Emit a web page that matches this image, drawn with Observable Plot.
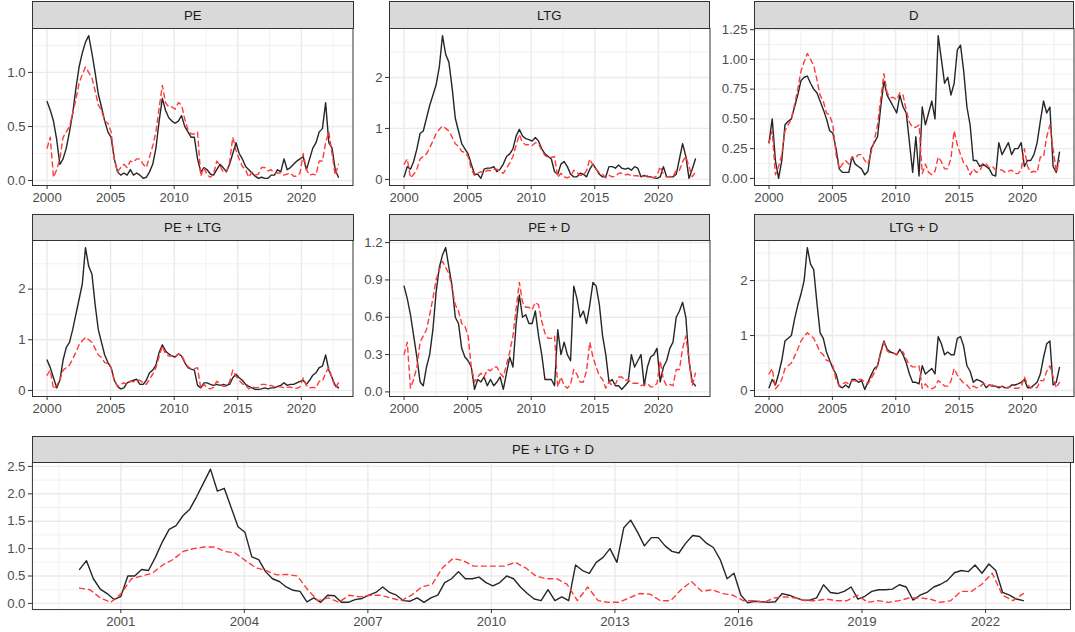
<!DOCTYPE html>
<html><head><meta charset="utf-8">
<script src="https://cdn.jsdelivr.net/npm/d3@7"></script>
<script src="https://cdn.jsdelivr.net/npm/@observablehq/plot@0.6"></script>
<style>
body{margin:0;background:#fff;}
#chart{position:relative;width:1075px;height:632px;font-family:"Liberation Sans",Arial,sans-serif;overflow:hidden;}
.strip{position:absolute;box-sizing:border-box;background:#D9D9D9;border:1px solid #333;color:#1A1A1A;font-size:13.2px;display:flex;align-items:center;justify-content:center;}
.panel{position:absolute;overflow:visible;}
</style></head><body><div id="chart"></div>
<script>
// ---- data (quarterly readings, Jan 2000 – Dec 2022) ----
const actual = [ // red dashed series shared by the six upper panels
 0.30,0.40,0.03,0.10, 0.20,0.40,0.45,0.50, 0.62,0.75,0.90,0.98, 1.05,1.00,0.95,0.83,
 0.70,0.65,0.55,0.53, 0.45,0.20,0.08,0.12, 0.15,0.12,0.18,0.17, 0.20,0.20,0.15,0.12,
 0.22,0.32,0.45,0.67, 0.88,0.72,0.68,0.68, 0.66,0.72,0.70,0.57, 0.47,0.43,0.43,0.45,
 0.04,0.12,0.05,0.03, 0.06,0.18,0.14,0.08, 0.08,0.17,0.40,0.28, 0.20,0.13,0.10,0.03,
 0.08,0.05,0.06,0.12, 0.12,0.09,0.10,0.07, 0.07,0.07,0.05,0.06, 0.07,0.04,0.04,0.07,
 0.25,0.10,0.05,0.06, 0.05,0.18,0.18,0.35, 0.45,0.25,0.05,0.15];
const fitPE = [
 0.73,0.65,0.55,0.38, 0.15,0.20,0.30,0.45, 0.62,0.85,1.05,1.18, 1.28,1.34,1.18,1.00,
 0.80,0.68,0.55,0.45, 0.40,0.20,0.08,0.05, 0.07,0.05,0.10,0.05, 0.07,0.05,0.02,0.03,
 0.08,0.15,0.30,0.55, 0.76,0.65,0.58,0.55, 0.53,0.55,0.60,0.50, 0.45,0.40,0.40,0.20,
 0.08,0.12,0.10,0.06, 0.05,0.10,0.15,0.12, 0.08,0.15,0.25,0.35, 0.25,0.20,0.13,0.10,
 0.07,0.04,0.02,0.03, 0.02,0.02,0.05,0.05, 0.10,0.08,0.20,0.10, 0.12,0.15,0.18,0.20,
 0.22,0.10,0.20,0.30, 0.35,0.45,0.48,0.72, 0.35,0.30,0.10,0.03];
const fitLTG = [
 0.05,0.25,0.20,0.35, 0.60,0.90,0.95,1.20, 1.45,1.65,1.85,2.20, 2.82,2.45,2.30,1.80,
 1.20,0.95,0.70,0.60, 0.50,0.30,0.10,0.10, 0.02,0.20,0.22,0.22, 0.25,0.15,0.20,0.30,
 0.45,0.50,0.60,0.85, 0.98,0.85,0.80,0.78, 0.75,0.82,0.75,0.60, 0.50,0.45,0.40,0.15,
 0.10,0.30,0.35,0.25, 0.10,0.05,0.05,0.12, 0.10,0.05,0.20,0.30, 0.20,0.10,0.05,0.05,
 0.25,0.25,0.22,0.28, 0.22,0.20,0.22,0.18, 0.25,0.22,0.05,0.08, 0.05,0.05,0.03,0.02,
 0.05,0.25,0.05,0.05, 0.05,0.10,0.40,0.70, 0.45,0.02,0.20,0.40];
const fitD = [
 0.30,0.50,0.15,0.00, 0.15,0.45,0.48,0.50, 0.60,0.70,0.82,0.85, 0.86,0.80,0.75,0.72,
 0.65,0.58,0.50,0.40, 0.38,0.25,0.08,0.05, 0.05,0.05,0.18,0.12, 0.10,0.08,0.03,0.06,
 0.25,0.30,0.35,0.60, 0.82,0.70,0.65,0.60, 0.55,0.70,0.60,0.55, 0.30,0.05,0.35,0.02,
 0.60,0.45,0.55,0.65, 0.50,1.20,1.00,0.80, 0.85,0.70,0.80,1.08, 1.12,0.90,0.60,0.45,
 0.15,0.15,0.10,0.12, 0.10,0.08,0.03,0.02, 0.30,0.20,0.25,0.30, 0.20,0.25,0.25,0.30,
 0.10,0.15,0.15,0.20, 0.30,0.48,0.65,0.55, 0.60,0.10,0.05,0.22];
const fitPE_LTG = [
 0.60,0.45,0.25,0.05, 0.20,0.60,0.85,0.95, 1.20,1.50,1.80,2.10, 2.82,2.45,2.30,1.70,
 1.20,0.95,0.70,0.55, 0.45,0.20,0.08,0.03, 0.05,0.15,0.18,0.20, 0.22,0.12,0.12,0.20,
 0.35,0.40,0.50,0.75, 0.90,0.78,0.72,0.68, 0.66,0.72,0.68,0.55, 0.45,0.42,0.40,0.10,
 0.05,0.15,0.15,0.12, 0.10,0.12,0.10,0.12, 0.10,0.12,0.25,0.32, 0.25,0.20,0.12,0.08,
 0.05,0.02,0.02,0.03, 0.05,0.03,0.05,0.05, 0.08,0.10,0.15,0.10, 0.12,0.12,0.15,0.18,
 0.20,0.12,0.20,0.30, 0.35,0.45,0.48,0.70, 0.40,0.25,0.10,0.05];
const fitPE_D = [
 0.85,0.75,0.62,0.45, 0.28,0.08,0.05,0.20, 0.30,0.50,0.80,1.00, 1.10,1.16,1.00,0.85,
 0.60,0.55,0.35,0.28, 0.25,0.20,0.02,0.10, 0.08,0.12,0.05,0.10, 0.05,0.08,0.12,0.02,
 0.15,0.28,0.20,0.55, 0.78,0.60,0.62,0.55, 0.55,0.65,0.45,0.30, 0.10,0.10,0.10,0.05,
 0.50,0.30,0.40,0.30, 0.25,0.85,0.75,0.60, 0.65,0.55,0.70,0.88, 0.85,0.70,0.45,0.30,
 0.08,0.10,0.05,0.05, 0.02,0.05,0.08,0.30, 0.20,0.25,0.30,0.05, 0.20,0.28,0.30,0.35,
 0.08,0.20,0.25,0.35, 0.40,0.60,0.65,0.72, 0.60,0.25,0.08,0.05];
const fitLTG_D = [
 0.05,0.20,0.10,0.30, 0.55,0.90,0.95,1.00, 1.30,1.55,1.75,2.00, 2.60,2.30,2.20,1.60,
 1.05,0.95,0.70,0.55, 0.40,0.30,0.08,0.05, 0.10,0.05,0.20,0.20, 0.15,0.18,0.02,0.15,
 0.28,0.40,0.45,0.70, 0.90,0.75,0.70,0.68, 0.65,0.75,0.65,0.50, 0.30,0.15,0.15,0.12,
 0.45,0.30,0.35,0.40, 0.30,0.98,0.85,0.65, 0.70,0.65,0.65,0.95, 0.98,0.80,0.45,0.35,
 0.15,0.20,0.18,0.15, 0.05,0.10,0.08,0.08, 0.05,0.08,0.05,0.05, 0.10,0.10,0.12,0.15,
 0.20,0.05,0.05,0.10, 0.15,0.30,0.60,0.85, 0.90,0.10,0.15,0.42];
// bottom panel: fitted (bimonthly readings) and actual (quarterly readings)
const allFit = [
 0.62,0.78,0.45,0.26,0.18,0.07, 0.13,0.50,0.50,0.62,0.60,0.84, 1.12,1.35,1.42,1.60,1.72,1.95,
 2.20,2.45,2.05,2.10,1.75,1.40, 1.30,0.85,0.80,0.58,0.45,0.40, 0.30,0.24,0.22,0.03,0.10,0.02,
 0.15,0.14,0.02,0.02,0.07,0.09, 0.15,0.20,0.30,0.20,0.15,0.05, 0.04,0.10,0.02,0.10,0.15,0.38,
 0.45,0.58,0.45,0.45,0.48,0.38, 0.32,0.38,0.50,0.45,0.30,0.18, 0.08,0.05,0.25,0.05,0.12,0.05,
 0.70,0.60,0.55,0.75,0.84,1.00, 0.75,1.38,1.52,1.30,1.05,1.20, 1.20,1.05,0.95,0.92,1.10,1.24,
 1.22,1.10,1.02,0.80,0.45,0.55, 0.15,0.01,0.04,0.03,0.02,0.03, 0.18,0.15,0.10,0.06,0.06,0.10,
 0.34,0.20,0.18,0.22,0.30,0.08, 0.13,0.22,0.25,0.25,0.26,0.34, 0.30,0.06,0.15,0.20,0.30,0.35,
 0.42,0.56,0.60,0.58,0.70,0.55, 0.72,0.60,0.20,0.15,0.08,0.05];
const allActual = [
 0.28,0.25,0.10,0.02, 0.18,0.45,0.50,0.55, 0.70,0.80,0.95,1.00, 1.03,1.03,0.95,0.92,
 0.78,0.65,0.60,0.52, 0.53,0.50,0.25,0.05, 0.10,0.02,0.15,0.12, 0.15,0.15,0.10,0.05,
 0.15,0.30,0.35,0.65, 0.82,0.78,0.68,0.68, 0.68,0.68,0.75,0.65, 0.50,0.45,0.45,0.35,
 0.05,0.30,0.05,0.02, 0.02,0.10,0.18,0.17, 0.05,0.05,0.25,0.40, 0.22,0.25,0.18,0.15,
 0.05,0.05,0.02,0.10, 0.12,0.10,0.05,0.05, 0.08,0.05,0.05,0.15, 0.02,0.05,0.02,0.05,
 0.10,0.10,0.08,0.02, 0.05,0.22,0.22,0.35, 0.55,0.15,0.05,0.18];
const panelTitles = ["PE","LTG","D","PE + LTG","PE + D","LTG + D","PE + LTG + D"];
const xTicksSmall = [2000,2005,2010,2015,2020];
const xTicksWide = [2001,2004,2007,2010,2013,2016,2019,2022];

// ---- helpers ----
const span = 22 + 11/12;
const tQ = d3.range(92).map(i => 2000 + i * span / 91);
const tB = d3.range(138).map(i => 2000 + i * span / 137);
const xDomain = [2000 - span * 0.05, 2000 + span * 1.05];
const chart = document.getElementById("chart");
const ML = 36, MR = 1, MT = 10, MB = 26;

function minors(ticks, lo, hi) {
  const step = ticks[1] - ticks[0];
  const out = [];
  for (let v = ticks[0] - step / 2; v <= hi; v += step) if (v >= lo) out.push(v);
  for (let v = ticks[0] - step * 1.5; v >= lo; v -= step) out.push(v);
  return out;
}

function panel(p) {
  const fit = p.fit.map((v, i) => ({t: p.tFit[i], v}));
  const act = p.act.map((v, i) => ({t: p.tAct[i], v}));
  const all = p.fit.concat(p.act);
  const lo = d3.min(all), hi = d3.max(all), pad = (hi - lo) * 0.05;
  const yDomain = [lo - pad, hi + pad];
  const w = p.right - p.left, h = p.bottom - p.top;
  const strip = document.createElement("div");
  strip.className = "strip";
  strip.textContent = p.title;
  Object.assign(strip.style, {left: p.left + "px", width: (w + 1) + "px", top: p.stripTop + "px", height: (p.top - p.stripTop + 1) + "px"});
  const svg = Plot.plot({
    width: w + ML + MR, height: h + MT + MB,
    marginLeft: ML, marginRight: MR, marginTop: MT, marginBottom: MB,
    x: {domain: xDomain, label: null}, y: {domain: yDomain, label: null},
    style: {fontFamily: '"Liberation Sans", Arial, sans-serif', fontSize: "13.2px", background: "transparent", color: "#4D4D4D", overflow: "visible"},
    marks: [
      Plot.ruleX(minors(p.xTicks, xDomain[0], xDomain[1]), {stroke: "#EBEBEB", strokeWidth: 0.7}),
      Plot.ruleY(minors(p.yTicks, yDomain[0], yDomain[1]), {stroke: "#EBEBEB", strokeWidth: 0.7}),
      Plot.ruleX(p.xTicks, {stroke: "#EBEBEB", strokeWidth: 1.4}),
      Plot.ruleY(p.yTicks, {stroke: "#EBEBEB", strokeWidth: 1.4}),
      Plot.line(fit, {x: "t", y: "v", stroke: "#262626", strokeWidth: 1.4}),
      Plot.line(act, {x: "t", y: "v", stroke: "#FF3A3A", strokeWidth: 1.4, strokeDasharray: "5,4"}),
      Plot.frame({stroke: "#333333", strokeWidth: 1}),
      Plot.axisX({ticks: p.xTicks, tickFormat: "d", label: null, tickSize: 4, tickPadding: 3.5, stroke: "#333333", fill: "#4D4D4D"}),
      Plot.axisY({ticks: p.yTicks, tickFormat: p.yFmt, label: null, tickSize: 4, tickPadding: 3, stroke: "#333333", fill: "#4D4D4D"})
    ]
  });
  svg.classList.add("panel");
  Object.assign(svg.style, {left: (p.left - ML) + "px", top: (p.top - MT) + "px"});
  chart.appendChild(svg);
  chart.appendChild(strip);
}

const cols = [[32, 352.5], [388.5, 709], [753.5, 1073]];
const rows = [{stripTop: 1, top: 28, bottom: 185}, {stripTop: 214, top: 240, bottom: 396}];
const specs = [
  {fit: fitPE, yTicks: [0, 0.5, 1.0], yFmt: ".1f"},
  {fit: fitLTG, yTicks: [0, 1, 2], yFmt: "d"},
  {fit: fitD, yTicks: [0, 0.25, 0.5, 0.75, 1.0, 1.25], yFmt: ".2f"},
  {fit: fitPE_LTG, yTicks: [0, 1, 2], yFmt: "d"},
  {fit: fitPE_D, yTicks: [0, 0.3, 0.6, 0.9, 1.2], yFmt: ".1f"},
  {fit: fitLTG_D, yTicks: [0, 1, 2], yFmt: "d"}
];
specs.forEach((s, i) => {
  const c = cols[i % 3], r = rows[Math.floor(i / 3)];
  panel({...s, title: panelTitles[i], act: actual, tFit: tQ, tAct: tQ, xTicks: xTicksSmall,
    left: c[0], right: c[1], ...r});
});
panel({title: panelTitles[6], fit: allFit, act: allActual, tFit: tB, tAct: tQ,
  xTicks: xTicksWide, yTicks: [0, 0.5, 1.0, 1.5, 2.0, 2.5], yFmt: ".1f",
  left: 32, right: 1073, stripTop: 435.5, top: 461.5, bottom: 609});
</script></body></html>
